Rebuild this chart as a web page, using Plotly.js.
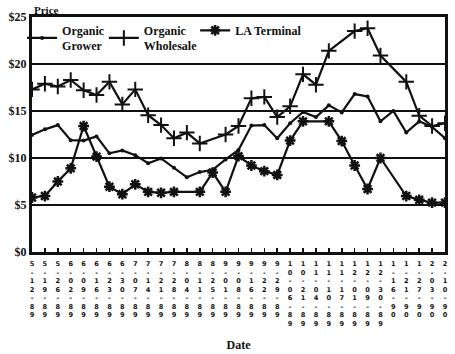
<!DOCTYPE html>
<html>
<head>
<meta charset="utf-8">
<script src="https://cdn.plot.ly/plotly-3.0.1.min.js"></script>
<style>html,body{margin:0;padding:0;background:#fff;}#chart{width:455px;height:354px;}</style>
</head>
<body>
<div id="chart"></div>
<script>
const dates = ["5-12-89","5-19-89","5-26-89","6-02-89","6-09-89","6-16-89","6-23-89","6-30-89",
  "7-07-89","7-14-89","7-21-89","7-28-89","8-04-89","8-11-89","8-25-89","9-01-89","9-08-89",
  "9-16-89","9-22-89","9-29-89","10-06-89","10-21-89","11-04-89","11-10-89","11-17-89",
  "12-01-89","12-09-89","12-30-89","1-16-90","1-21-90","1-27-90","2-03-90","2-10-90"];

const organicGrower = [12.45,13.05,13.5,11.9,11.85,12.3,10.5,10.8,10.3,9.45,9.95,8.95,7.95,8.5,8.75,9.85,10.85,
  13.45,13.5,12.1,13.7,14.9,14.35,15.6,14.85,16.8,16.55,13.9,15.0,12.7,13.9,13.3,12.1];

const organicWholesale = [17.3,17.9,17.6,18.3,17.2,16.7,18.1,15.7,17.3,14.55,13.5,12.1,12.7,11.55,null,12.5,13.4,
  16.35,16.5,14.35,15.5,18.9,17.8,21.4,null,23.5,23.8,20.9,null,18.1,14.5,13.4,13.7];

const laTerminal = [5.8,5.95,7.5,8.9,13.4,10.15,6.95,6.15,7.2,6.4,6.3,6.4,null,6.4,8.45,6.4,10.2,
  9.2,8.6,8.2,11.85,13.9,null,13.9,11.8,9.2,6.7,10.0,null,5.95,5.55,5.25,5.25];

const yTickVals = [0,5,10,15,20,25];
const yTickText = ["$0","$5","$10","$15","$20","$25"];

const vertical = s => "<b>" + s.split("").join("<br>") + "</b>";
const serif = "Liberation Serif, Times New Roman, serif";

const traces = [
  {x: dates, y: organicGrower, name: "Organic<br>Grower", type: "scatter", mode: "lines+markers",
   connectgaps: true, line: {color: "#111", width: 2.2}, legend: "legend",
   marker: {symbol: "circle", size: 4, color: "#111"}},
  {x: dates, y: organicWholesale, name: "Organic<br>Wholesale", type: "scatter", mode: "lines+markers",
   connectgaps: true, line: {color: "#111", width: 2.2}, legend: "legend2",
   marker: {symbol: "cross-thin", size: 11, color: "#111", line: {color: "#111", width: 2}}},
  {x: dates, y: laTerminal, name: "LA Terminal", type: "scatter", mode: "lines+markers",
   connectgaps: true, line: {color: "#111", width: 2.2}, legend: "legend3",
   marker: {symbol: "asterisk", size: 9, color: "#111", line: {color: "#111", width: 2.5}}}
];

const legendBase = x => ({orientation: "h", x: x, xanchor: "left", y: 1.005, yanchor: "top",
  bgcolor: "rgba(0,0,0,0)", font: {family: serif, size: 12, color: "#111", weight: "bold"}, itemwidth: 30});

const layout = {
  width: 455, height: 354,
  margin: {l: 32, r: 10, t: 17, b: 102},
  paper_bgcolor: "#fff", plot_bgcolor: "#fff",
  showlegend: true,
  legend: legendBase(-0.024),
  legend2: legendBase(0.174),
  legend3: legendBase(0.395),
  xaxis: {type: "category", range: [0, dates.length - 1], tickvals: dates, ticktext: dates.map(vertical),
    tickangle: 0, showgrid: false, zeroline: false, showline: true, linecolor: "#111", linewidth: 3, mirror: true,
    ticks: "inside", ticklen: 4, tickwidth: 1.5, tickcolor: "#111", ticklabelstandoff: 3,
    tickfont: {family: "DejaVu Sans, sans-serif", size: 6.6, color: "#111"},
    title: {text: "<b>Date</b>", font: {family: serif, size: 12, color: "#111"}, standoff: 14}},
  yaxis: {range: [0, 25], tickvals: yTickVals, ticktext: yTickText, showgrid: true, gridcolor: "#111", gridwidth: 2,
    zeroline: false, showline: true, linecolor: "#111", linewidth: 3, mirror: true, ticks: "",
    tickfont: {family: serif, size: 12, color: "#111", weight: "bold"}},
  annotations: [
    {text: "<b>Price</b>", xref: "paper", yref: "paper", x: 0, y: 1.0, xanchor: "left", yanchor: "bottom",
     yshift: -1, showarrow: false, font: {family: serif, size: 11, color: "#111"}}
  ]
};

Plotly.newPlot("chart", traces, layout, {displayModeBar: false, staticPlot: true});
</script>
</body>
</html>
